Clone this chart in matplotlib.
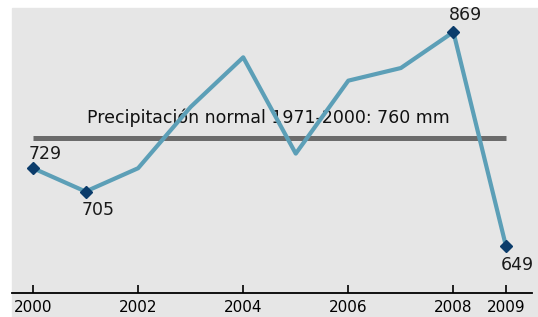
import matplotlib.pyplot as plt
from matplotlib.patches import Rectangle

years = [2000, 2001, 2002, 2003, 2004, 2005, 2006, 2007, 2008, 2009]
precip = [729, 705, 729, 792, 843, 744, 819, 832, 869, 649]
normal = 760
normal_label = "Precipitación normal 1971-2000: 760 mm"
marked_years = [2000, 2001, 2008, 2009]
label_offsets = {2000: (9, 10), 2001: (9, -13), 2008: (9, 12), 2009: (8, -14)}
tick_years = [2000, 2002, 2004, 2006, 2008, 2009]

bg = "#e6e6e6"
line_col = "#5c9fb7"
marker_col = "#0b3c6b"

fig = plt.figure(figsize=(5.38, 3.17), dpi=100)
fig.patches.append(Rectangle((12 / 538, 0), 1, (317 - 8) / 317,
                             transform=fig.transFigure, color=bg, zorder=-5))

ax = fig.add_axes([12 / 538, 24 / 317, 526 / 538, 285 / 317])
ax.set_facecolor(bg)
ax.set_xlim(1999.6, 2009.61)
ax.set_ylim(600.7, 893.7)

# normal line + its label (sits under the data line)
ax.hlines(normal, 2000, 2009, color="#6b6b6b", linewidth=3.6, zorder=2)
ax.text(2004.47, 781, normal_label, ha="center", va="center", fontsize=12.5,
        color="#111111", zorder=2.5)

ax.plot(years, precip, color=line_col, linewidth=3, zorder=3)
mx = [y for y in years if y in marked_years]
my = [p for y, p in zip(years, precip) if y in marked_years]
ax.plot(mx, my, linestyle="none", marker="D", markersize=6, color=marker_col, zorder=4)
for y, p in zip(mx, my):
    dx, dy = label_offsets[y]
    ax.annotate(str(p), (y, p), xytext=(dx, dy), textcoords="offset points",
                ha="center", va="center", fontsize=12.5, color="#1a1a1a")

for s in ["top", "right", "left"]:
    ax.spines[s].set_visible(False)
ax.spines["bottom"].set_bounds(1999.6, 2009.5)
ax.spines["bottom"].set_linewidth(1.3)
ax.set_xticks(tick_years)
ax.set_xticklabels([str(t) for t in tick_years])
ax.tick_params(axis="x", direction="in", length=6, width=1.2, labelsize=11, pad=5)
ax.set_yticks([])

fig.savefig("out.png", dpi=100)
